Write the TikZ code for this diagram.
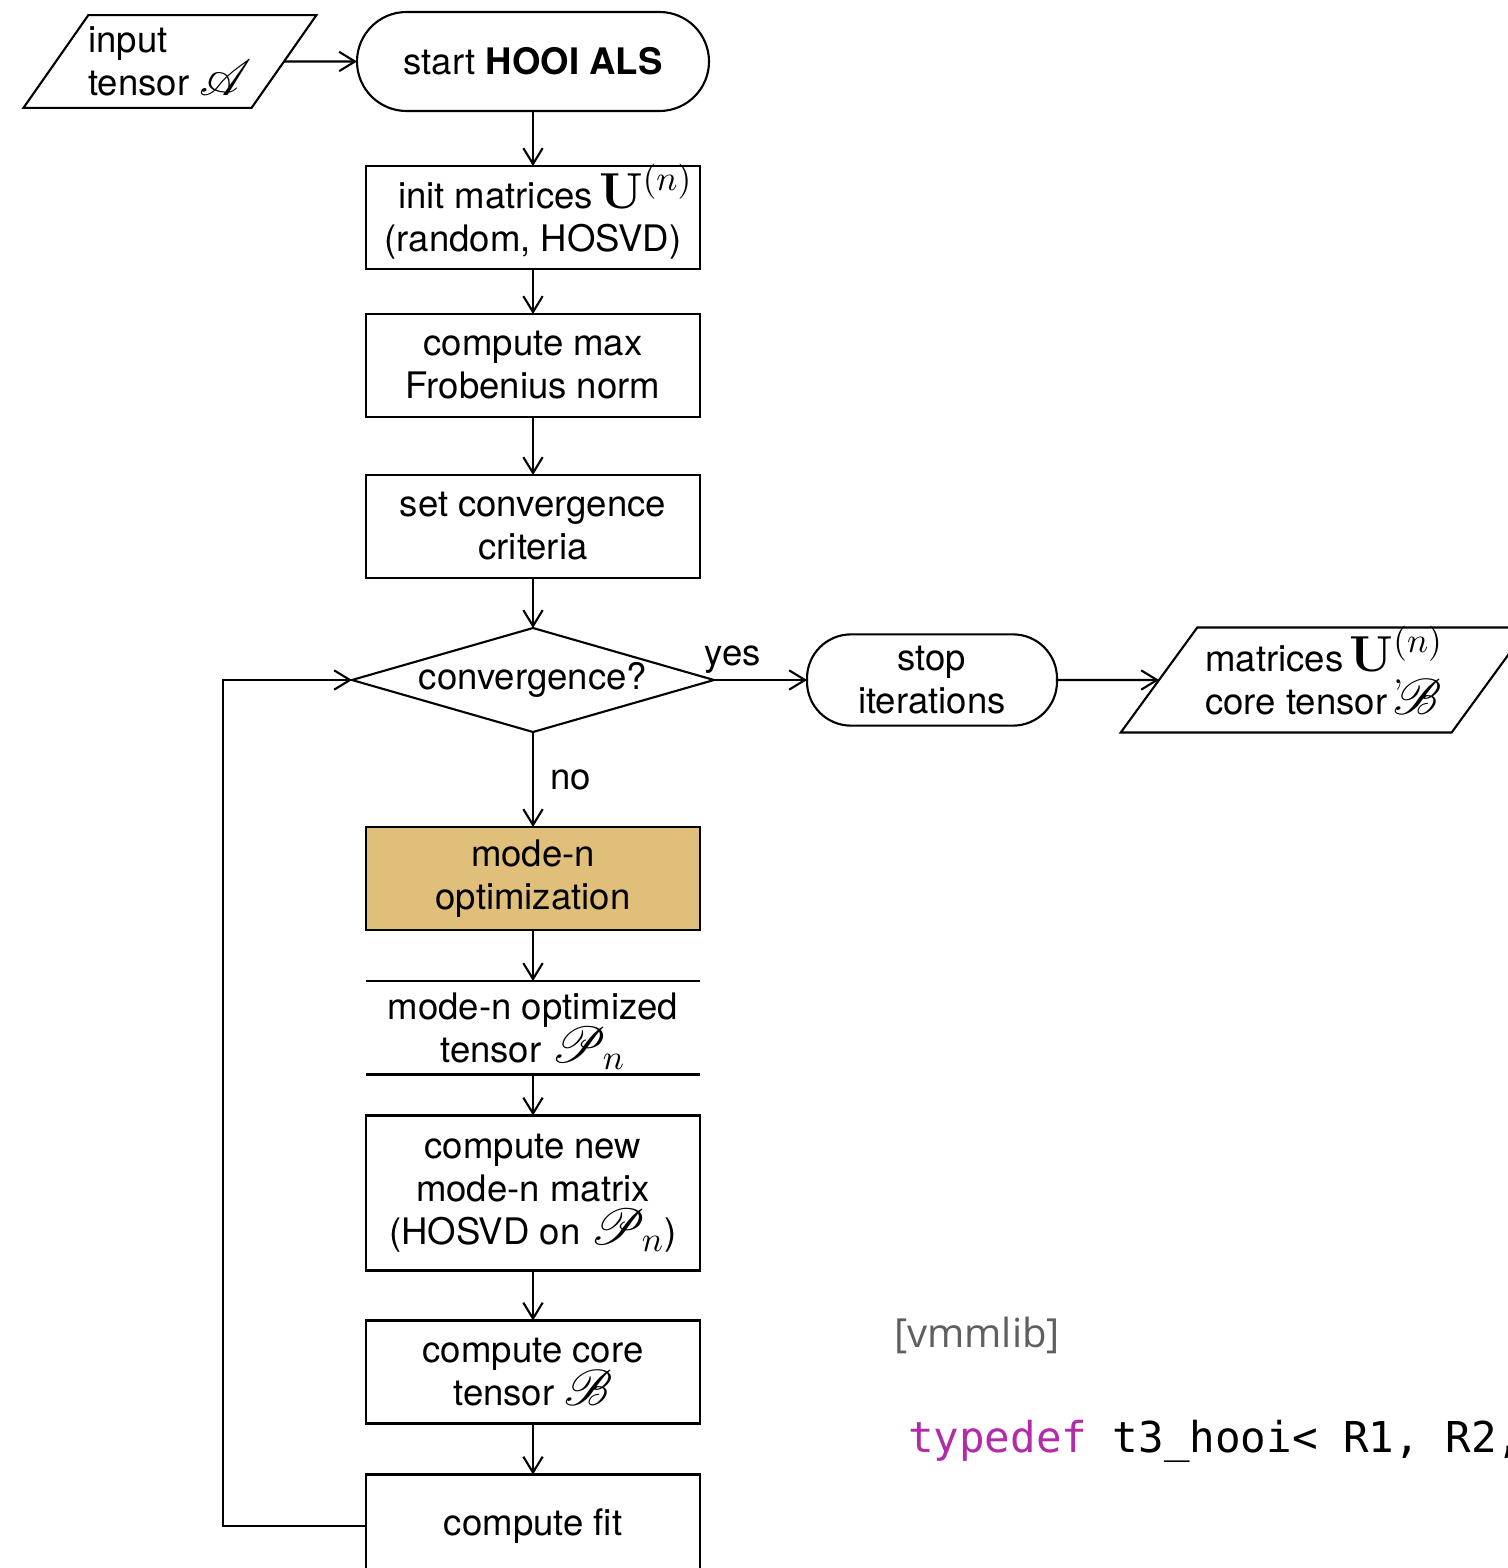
\documentclass[tikz,border=0pt]{standalone}
\usepackage[no-math]{fontspec}
\usepackage{amsmath}
\usepackage{mathrsfs}
\setmainfont{TeX Gyre Heros}
\newfontfamily\notefont{Open Sans}
\newfontfamily\codefont{DejaVu Sans Mono}
\usepackage{tikz}
\usetikzlibrary{arrows.meta,positioning,shapes.geometric}
\definecolor{hooitan}{RGB}{224,191,122}
\definecolor{hooigray}{RGB}{95,95,95}
\definecolor{hooikey}{RGB}{178,44,168}
\newcommand{\bigmath}[1]{{\fontsize{14}{12.2}\selectfont\smash{$#1$}}}

\begin{document}
\begin{tikzpicture}[
  node distance=0.5cm and 0.9cm,
  every node/.style={font=\fontsize{10.4}{12.2}\selectfont, outer sep=0pt},
  stepbox/.style={draw, line width=0.6pt, fill=white, minimum width=3.34cm,
    minimum height=1.03cm, align=center},
  terminal/.style={draw, line width=0.6pt, align=center},
  decision/.style={diamond, draw, line width=0.6pt, aspect=3.48, inner sep=0pt,
    minimum width=3.62cm, minimum height=1.04cm},
  io/.style={trapezium, trapezium stretches=true, draw, line width=0.6pt,
    align=left, inner xsep=0pt},
  datarow/.style={minimum width=3.34cm, minimum height=0.93cm, align=center},
  arr/.style={-{Straight Barb[length=4.5pt,width=5.5pt]}, line width=0.6pt},
  lab/.style={inner sep=2pt}
]
  \path[use as bounding box] (0,0) rectangle (15.08,-15.68);
  \clip (0,0) rectangle (15.08,-15.68);

  \node[terminal, minimum width=3.52cm, minimum height=0.99cm, rounded corners=0.495cm] (start) at (5.33,-0.615) {start \textbf{HOOI ALS}};
  \node[io, left=0.73cm of start, trapezium left angle=55, trapezium right angle=125,
    minimum width=2.95cm, minimum height=0.86cm] (input) {input\\tensor \bigmath{\mathscr{A}}};

  \node[stepbox, below=0.55cm of start, inner xsep=0pt, text depth=-0.1cm] (init) {\hspace*{0.25cm}init matrices\,\bigmath{\mathbf{U}^{(n)}}\\(random, HOSVD)};
  \node[stepbox, below=0.45cm of init] (frob) {compute max\\Frobenius norm};
  \node[stepbox, below=0.58cm of frob] (crit) {set convergence\\criteria};
  \node[decision, below=0.50cm of crit] (conv) {convergence?};
  \node[terminal, right=0.93cm of conv, minimum width=2.5cm, minimum height=0.88cm, rounded corners=0.44cm] (stop) {stop\\iterations};
  \node[io, right=1.02cm of stop, trapezium left angle=52.3, trapezium right angle=127.7,
    minimum width=4.08cm, minimum height=1.05cm] (output) {matrices\,\bigmath{\mathbf{U}^{(n)}_{,}}\\core tensor\,\bigmath{\mathscr{B}}};

  \node[stepbox, fill=hooitan, below=0.95cm of conv] (opt) {mode-n\\optimization};
  \node[datarow, below=0.51cm of opt] (proj) {mode-n optimized\\tensor \bigmath{\mathscr{P}_n}};
  \node[stepbox, minimum height=1.55cm, below=0.41cm of proj] (newmat) {compute new\\mode-n matrix\\(HOSVD on \bigmath{\mathscr{P}_n})};
  \node[stepbox, below=0.50cm of newmat] (core) {compute core\\tensor \bigmath{\mathscr{B}}};
  \node[stepbox, below=0.51cm of core] (fit) {compute fit};

  \draw[line width=0.6pt] (proj.north west) -- (proj.north east) (proj.south west) -- (proj.south east);

  \draw[arr] (input) -- (start);
  \draw[arr] (start) -- (init);
  \draw[arr] (init) -- (frob);
  \draw[arr] (frob) -- (crit);
  \draw[arr] (crit) -- (conv);
  \draw[arr] (conv) -- node[lab, above, pos=0.2]{yes} (stop);
  \draw[arr] (stop) -- (output);
  \draw[arr] (conv) -- node[lab, right, xshift=0.1cm]{no} (opt);
  \draw[arr] (opt) -- (proj);
  \draw[arr] (proj) -- (newmat);
  \draw[arr] (newmat) -- (core);
  \draw[arr] (core) -- (fit);
  \draw[arr] (fit.west) -- ++(-1.43,0) |- (conv.west);

  \node[font=\notefont\fontsize{11.4}{13}\selectfont, text=hooigray] (tag) at (9.77,-13.35) {[vmmlib]};
  \node[anchor=base west, inner sep=0pt, font=\codefont\fontsize{12.1}{14}\selectfont] (code) at (9.08,-14.52) {\textcolor{hooikey}{typedef} t3\_hooi< R1, R2,};
\end{tikzpicture}
\end{document}
